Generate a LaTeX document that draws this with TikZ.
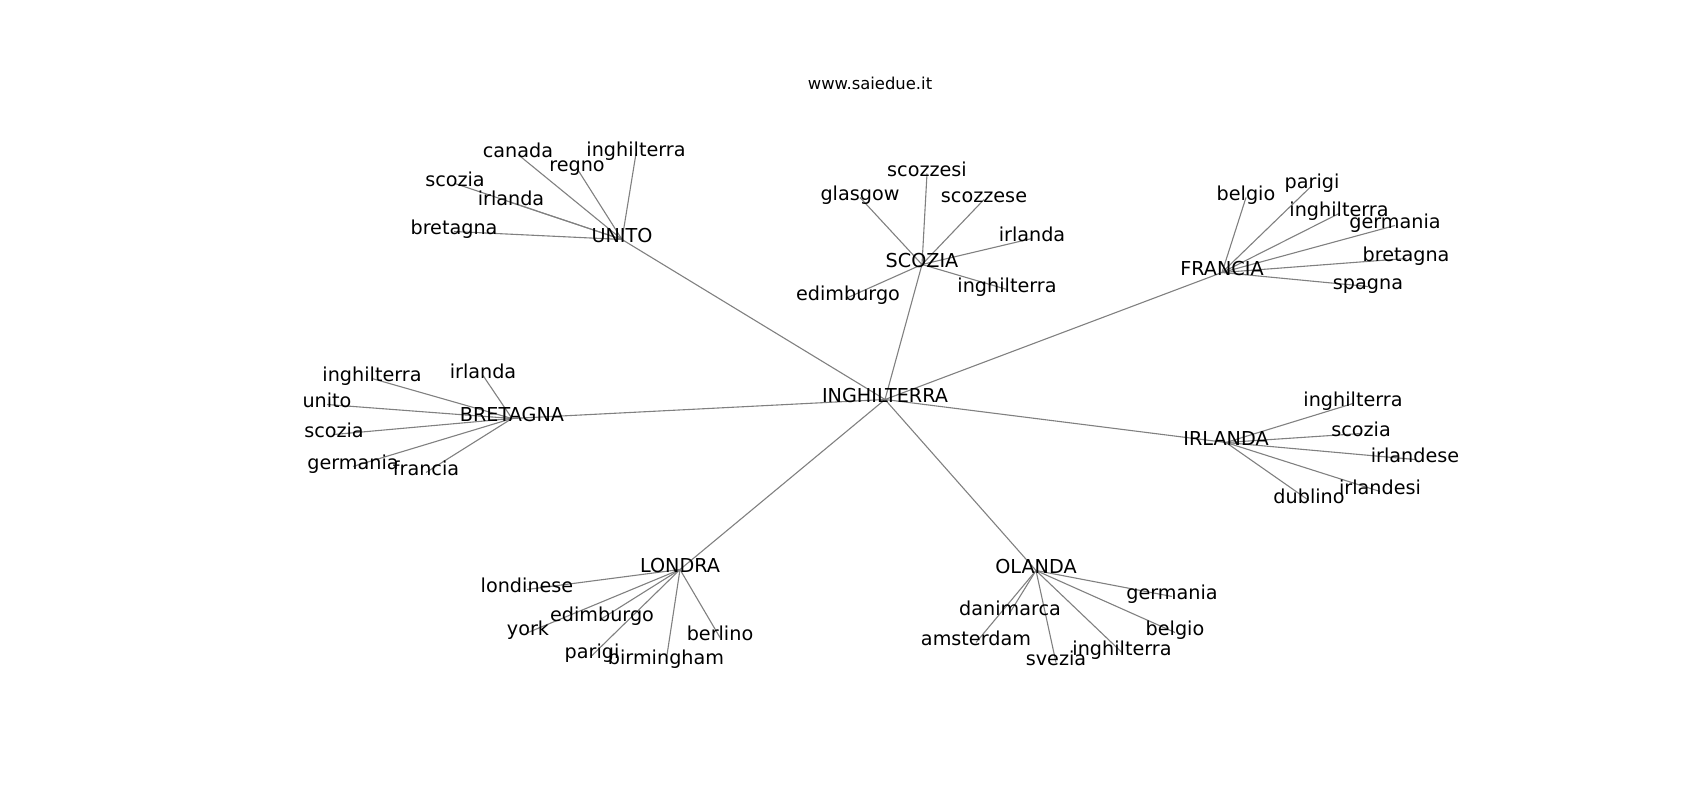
\documentclass[tikz,border=0pt]{standalone}
\usepackage{fontspec}
\setmainfont{DejaVu Sans}
\usetikzlibrary{backgrounds}
\tikzset{
  lbl/.style={inner sep=0pt, text height=0.76em, text depth=0.24em, font=\fontsize{19.2}{23}\selectfont},
  edge/.style={draw=black!50, line width=1.1pt}
}
\begin{document}
\begin{tikzpicture}[x=1pt, y=-1pt]
\useasboundingbox (0,0) rectangle (1700,800);
\node[inner sep=0pt, font=\fontsize{16.4}{20}\selectfont] (title) at (870,83) {www.saiedue.it};
\begin{scope}[yshift=-4.5pt]
\node[lbl] (ing) at (885,395) {INGHILTERRA};
\node[lbl] (unito) at (622,235) {UNITO};
\node[lbl] (u1) at (518,150) {canada};
\node[lbl] (u2) at (577,164) {regno};
\node[lbl] (u3) at (636,149) {inghilterra};
\node[lbl] (u4) at (455,179) {scozia};
\node[lbl] (u5) at (511,198) {irlanda};
\node[lbl] (u6) at (454,227) {bretagna};
\node[lbl] (scozia) at (922,260) {SCOZIA};
\node[lbl] (s1) at (927,169) {scozzesi};
\node[lbl] (s2) at (860,193) {glasgow};
\node[lbl] (s3) at (984,195) {scozzese};
\node[lbl] (s4) at (1032,234) {irlanda};
\node[lbl] (s5) at (1007,285) {inghilterra};
\node[lbl] (s6) at (848,293) {edimburgo};
\node[lbl] (francia) at (1222,268) {FRANCIA};
\node[lbl] (f1) at (1246,193) {belgio};
\node[lbl] (f2) at (1312,181) {parigi};
\node[lbl] (f3) at (1339,209) {inghilterra};
\node[lbl] (f4) at (1395,221) {germania};
\node[lbl] (f5) at (1406,254) {bretagna};
\node[lbl] (f6) at (1368,282) {spagna};
\node[lbl] (bretagna) at (512,414) {BRETAGNA};
\node[lbl] (b1) at (372,374) {inghilterra};
\node[lbl] (b2) at (483,371) {irlanda};
\node[lbl] (b3) at (327,400) {unito};
\node[lbl] (b4) at (334,430) {scozia};
\node[lbl] (b5) at (353,462) {germania};
\node[lbl] (b6) at (426,468) {francia};
\node[lbl] (irlanda) at (1226,438) {IRLANDA};
\node[lbl] (i1) at (1353,399) {inghilterra};
\node[lbl] (i2) at (1361,429) {scozia};
\node[lbl] (i3) at (1415,455) {irlandese};
\node[lbl] (i4) at (1380,487) {irlandesi};
\node[lbl] (i5) at (1309,496) {dublino};
\node[lbl] (londra) at (680,565) {LONDRA};
\node[lbl] (l1) at (527,585) {londinese};
\node[lbl] (l2) at (602,614) {edimburgo};
\node[lbl] (l3) at (528,628) {york};
\node[lbl] (l4) at (720,633) {berlino};
\node[lbl] (l5) at (592,651) {parigi};
\node[lbl] (l6) at (666,657) {birmingham};
\node[lbl] (olanda) at (1036,566) {OLANDA};
\node[lbl] (o1) at (1010,608) {danimarca};
\node[lbl] (o2) at (1172,592) {germania};
\node[lbl] (o3) at (1175,628) {belgio};
\node[lbl] (o4) at (976,638) {amsterdam};
\node[lbl] (o5) at (1056,658) {svezia};
\node[lbl] (o6) at (1122,648) {inghilterra};
\end{scope}
\begin{scope}[on background layer]
\foreach \h in {unito,scozia,francia,bretagna,irlanda,londra,olanda}
  \draw[edge] (ing.center) -- (\h.center);
\foreach \h/\k in {unito/u,scozia/s,francia/f,bretagna/b,londra/l,olanda/o}
  \foreach \n in {1,...,6}
    \draw[edge] (\h.center) -- (\k\n.center);
\foreach \n in {1,...,5}
  \draw[edge] (irlanda.center) -- (i\n.center);
\end{scope}
\end{tikzpicture}
\end{document}
